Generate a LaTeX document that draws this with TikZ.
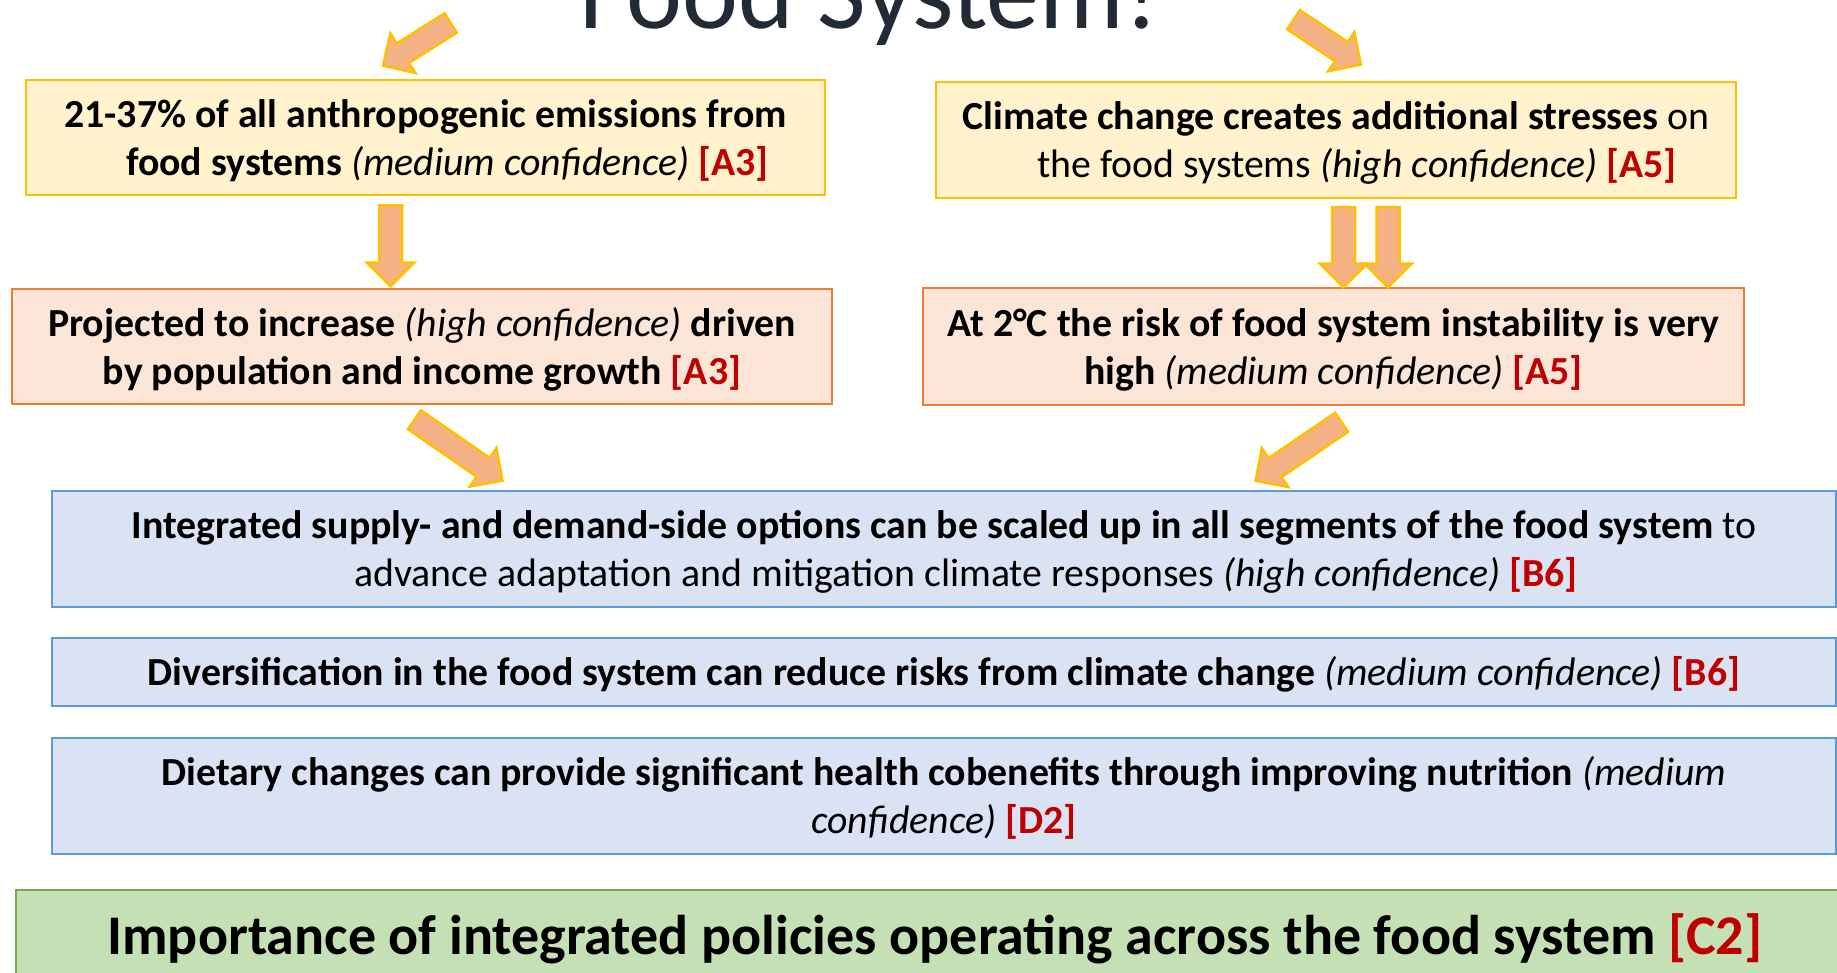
\documentclass[tikz,border=0pt]{standalone}
\usepackage{fontspec}
\setmainfont{Carlito}
\usetikzlibrary{shapes.arrows}
\definecolor{titlegray}{HTML}{222A35}
\definecolor{refred}{HTML}{C00000}
\definecolor{goldedge}{HTML}{FFC000}
\definecolor{goldfill}{HTML}{FFF2CC}
\definecolor{peachedge}{HTML}{ED7D31}
\definecolor{peachfill}{HTML}{FBE5D6}
\definecolor{blueedge}{HTML}{5B9BD5}
\definecolor{bluefill}{HTML}{DAE3F3}
\definecolor{greenedge}{HTML}{70AD47}
\definecolor{greenfill}{HTML}{C5E0B4}
\definecolor{arrowfill}{HTML}{F4B183}
\newcommand{\srcref}[1]{\textcolor{refred}{\textbf{[#1]}}}
% struts that keep the text a little low in its box
\newcommand{\hitop}{\rule{0pt}{0.93em}}
\newcommand{\lobot}{\rule[-0.23em]{0pt}{0.23em}}

\begin{document}
\begin{tikzpicture}[x=1pt, y=-1pt, line width=2pt,
  textbox/.style={rectangle, inner sep=0pt, align=center,
    font=\fontsize{39.8}{48}\selectfont},
  sourcebox/.style={textbox, draw=goldedge, fill=goldfill},
  riskbox/.style={textbox, draw=peachedge, fill=peachfill},
  optionbox/.style={textbox, draw=blueedge, fill=bluefill,
    minimum width=1784pt},
  policybox/.style={textbox, draw=greenedge, fill=greenfill,
    font=\fontsize{56}{66}\selectfont},
  fatarrow/.style={single arrow, draw=goldedge, fill=arrowfill,
    line width=2.5pt, inner xsep=0pt, inner ysep=10.25pt,
    single arrow head extend=12pt, minimum height=#1}]
  \useasboundingbox (0,0) rectangle (1837,973);

  \node[anchor=base, text=titlegray, font=\fontsize{106}{120}\selectfont]
    (title) at (869,29) {Food System!};

  % causes
  \node[sourcebox, minimum width=799pt, minimum height=115pt] (emis) at (425.5,137.5)
    {\hitop\textbf{21-37\% of all anthropogenic emissions from}\\
     \hspace*{44pt}\textbf{food systems} \textit{(medium confidence)} \srcref{A3}\lobot};
  \node[sourcebox, minimum width=800pt, minimum height=116pt] (stress) at (1336,140)
    {\hitop\textbf{Climate change creates additional stresses} on\\
     \hspace*{42pt}the food systems \textit{(high confidence)} \srcref{A5}\lobot};
  \node[riskbox, minimum width=820pt, minimum height=115pt] (proj) at (422,346.5)
    {\hitop\textbf{Projected to increase} \textit{(high confidence)} \textbf{driven}\\
     \textbf{by population and income growth} \srcref{A3}\lobot};
  \node[riskbox, minimum width=821pt, minimum height=117pt] (instab) at (1333.5,346.5)
    {\hitop\textbf{At 2°C the risk of food system instability is very}\\
     \textbf{high} \textit{(medium confidence)} \srcref{A5}\lobot};

  % responses
  \node[optionbox, minimum height=116pt] (scale) at (944,549)
    {\hitop\textbf{Integrated supply- and demand-side options can be scaled up in all segments of the food system} to\\
     \hspace*{44pt}advance adaptation and mitigation climate responses \textit{(high confidence)} \srcref{B6}\lobot};
  \node[optionbox, minimum height=68pt] (diverse) at (944,672)
    {\hitop\textbf{Diversification in the food system can reduce risks from climate change} \textit{(medium confidence)} \srcref{B6}\lobot};
  \node[optionbox, minimum height=116pt] (diet) at (944,796)
    {\hitop\textbf{Dietary changes can provide significant health cobenefits through improving nutrition} \textit{(medium}\\
     \textit{confidence)} \srcref{D2}\lobot};
  \node[policybox, minimum width=1838pt, minimum height=90pt] (policy) at (935,935)
    {\hitop\textbf{Importance of integrated policies operating across the food system} \srcref{C2}\lobot};

  % block arrows
  \node[fatarrow=80pt, rotate=212.2] (toemis) at (421.7,41.3) {};
  \node[fatarrow=81pt, rotate=-33.7] (tostress) at (1322.4,39) {};
  \node[fatarrow=81pt, rotate=-90] (emisproj) at (390.5,240) {};
  \node[fatarrow=80pt, rotate=-90] (stressinstab) at (1343.5,241.5) {};
  \node[fatarrow=80pt, rotate=-90] (stressinstabb) at (1388,241.5) {};
  \node[fatarrow=107pt, rotate=-34.7] (projscale) at (453.7,446.9) {};
  \node[fatarrow=104pt, rotate=214.2] (instabscale) at (1303.4,448.3) {};
\end{tikzpicture}
\end{document}
